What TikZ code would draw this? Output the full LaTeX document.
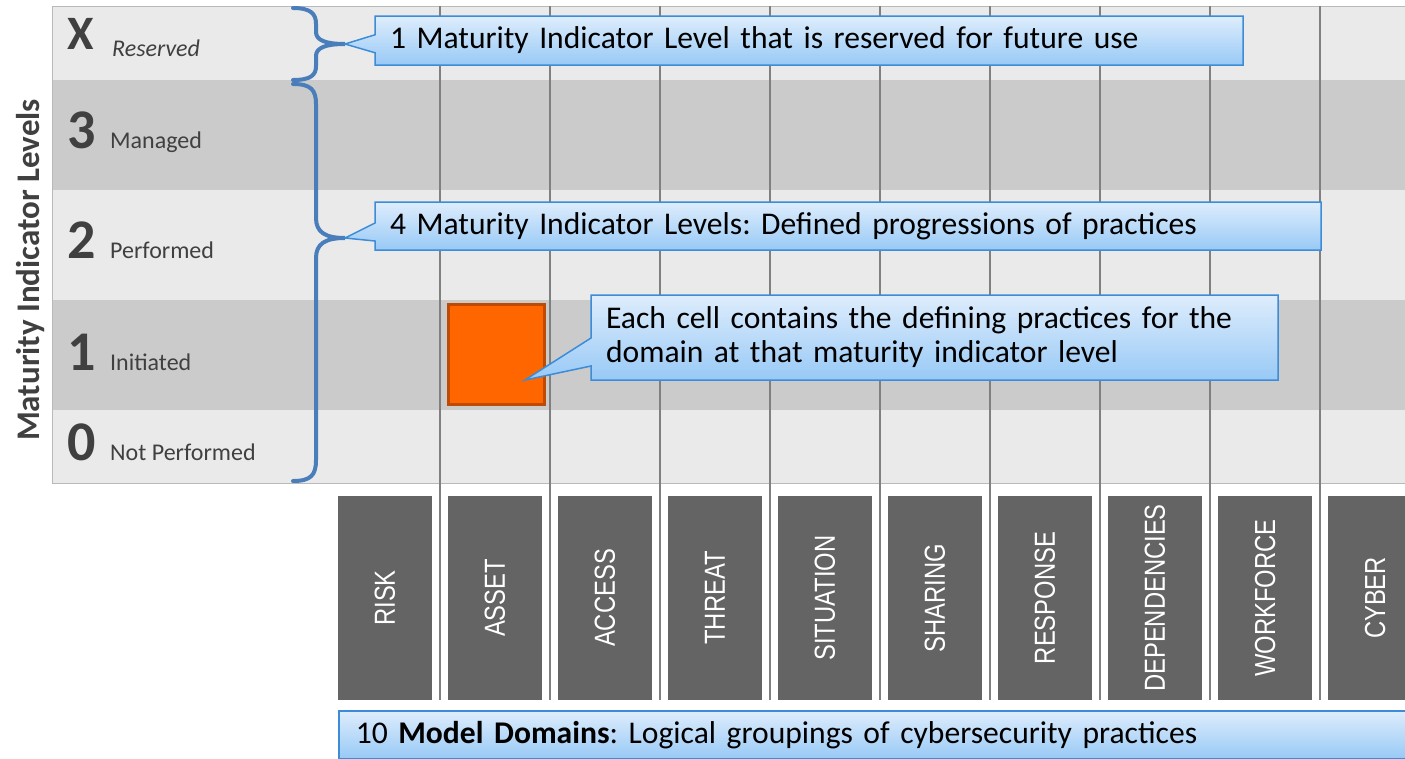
\documentclass[tikz,border=0pt]{standalone}
\usepackage{fontspec}
\setmainfont{Carlito}
\newfontfamily\domainfont[FakeStretch=0.82]{Liberation Sans}
\usetikzlibrary{shapes.callouts}
\definecolor{rowlight}{RGB}{234,234,234}
\definecolor{rowdark}{RGB}{203,203,203}
\definecolor{gridgray}{RGB}{128,128,128}
\definecolor{labelgray}{RGB}{64,64,64}
\definecolor{domaingray}{RGB}{100,100,100}
\definecolor{bracecol}{RGB}{74,126,187}
\definecolor{calltop}{RGB}{222,237,252}
\definecolor{callbot}{RGB}{152,201,246}
\definecolor{callborder}{RGB}{60,140,215}
\definecolor{cellfill}{RGB}{255,102,0}
\definecolor{cellborder}{RGB}{190,75,0}
\frenchspacing

\begin{document}
\begin{tikzpicture}[x=1pt, y=-1pt,
    levelnum/.style={anchor=base west, inner sep=0, text=labelgray,
        font=\fontsize{56}{60}\selectfont\bfseries},
    levelname/.style={anchor=base west, inner sep=0, text=labelgray,
        font=\fontsize{24}{28}\selectfont},
    domainbar/.style={rotate=90, fill=domaingray, text=white, inner sep=0,
        minimum width=204, minimum height=94,
        font=\domainfont\fontsize{29}{32}\selectfont},
    infobox/.style={rectangle callout, draw=callborder, line width=1.5,
        top color=calltop, bottom color=callbot, align=left,
        inner xsep=15, inner ysep=0, callout pointer width=18,
        font=\fontsize{31.6}{34}\selectfont},
    brace/.style={draw=bracecol, line width=4, line cap=round},
    cellbox/.style={fill=cellfill, draw=cellborder, line width=3,
        minimum width=96, minimum height=100}
]
    \useasboundingbox (0,0) rectangle (1405,758);

    % level rows
    \foreach \top/\bot/\col in {6/80/rowlight, 80/190/rowdark, 190/300/rowlight,
                                300/410/rowdark, 410/483/rowlight} {
        \fill[\col] (52,\top) rectangle (1405,\bot);
    }
    \draw[gray!55] (1405,6) -- (52,6) -- (52,483) -- (1405,483);

    \foreach \k in {0,...,8} {
        \draw[gridgray, line width=1.5] ({440+110*\k},6) -- ({440+110*\k},700);
    }

    % domains
    \foreach \dom [count=\i from 0] in {RISK, ASSET, ACCESS, THREAT, SITUATION,
                                        SHARING, RESPONSE, DEPENDENCIES, WORKFORCE, CYBER} {
        \node[domainbar] (dom\i) at ({385+110*\i},598) {\dom};
    }

    % level labels
    \node[rotate=90, text=labelgray, font=\fontsize{33}{36}\selectfont\bfseries]
        (title) at (31,270) {Maturity Indicator Levels};
    \node[levelnum, font=\fontsize{48}{52}\selectfont\bfseries] (numX) at (67,49) {X};
    \node[levelname, font=\fontsize{24}{28}\selectfont\itshape] (nameX) at (112,56) {Reserved};
    \foreach \n/\name/\base in {3/Managed/148, 2/Performed/258,
                                1/Initiated/370, 0/Not Performed/460} {
        \node[levelnum] (num\n) at (67,\base) {\n};
        \node[levelname] (name\n) at (110,\base) {\name};
    }

    % braces
    \coordinate (tipX) at (345,44);
    \coordinate (tipLevels) at (345,238);
    \draw[brace] (293,8) .. controls (311,8) and (316,14) .. (316,24) -- (316,32)
        .. controls (316,40) and (325,44) .. (tipX)
        .. controls (325,44) and (316,48) .. (316,56) -- (316,66)
        .. controls (316,75) and (311,80) .. (293,80);
    \draw[brace] (293,84) .. controls (311,84) and (316,90) .. (316,104) -- (316,218)
        .. controls (316,232) and (325,238) .. (tipLevels)
        .. controls (325,238) and (316,244) .. (316,258) -- (316,460)
        .. controls (316,475) and (311,481) .. (293,481);

    % example cell
    \node[cellbox] (cell) at (496,354) {};
    \coordinate (cellpoint) at (525,380);

    % callouts
    \node[infobox, text width=838, minimum height=49,
          callout absolute pointer={(tipX)}] (reserved) at (809,40.5)
        {1 Maturity Indicator Level that is reserved for future use};
    \node[infobox, text width=916, minimum height=48,
          callout absolute pointer={(tipLevels)}] (levels) at (848,226)
        {4 Maturity Indicator Levels: Defined progressions of practices};
    \node[infobox, text width=657, minimum height=85, callout pointer width=28,
          callout absolute pointer={(cellpoint)}] (cellnote) at (934.5,337.5)
        {Each cell contains the defining practices for the\\domain at that maturity indicator level};

    \node[draw=callborder, line width=1.5, top color=calltop, bottom color=callbot,
          anchor=north west, minimum width=1100, minimum height=48,
          text width=1066, inner xsep=17, align=left,
          font=\fontsize{31.6}{34}\selectfont] (modeldomains) at (338,710)
        {10 \textbf{Model Domains}: Logical groupings of cybersecurity practices};
\end{tikzpicture}
\end{document}
